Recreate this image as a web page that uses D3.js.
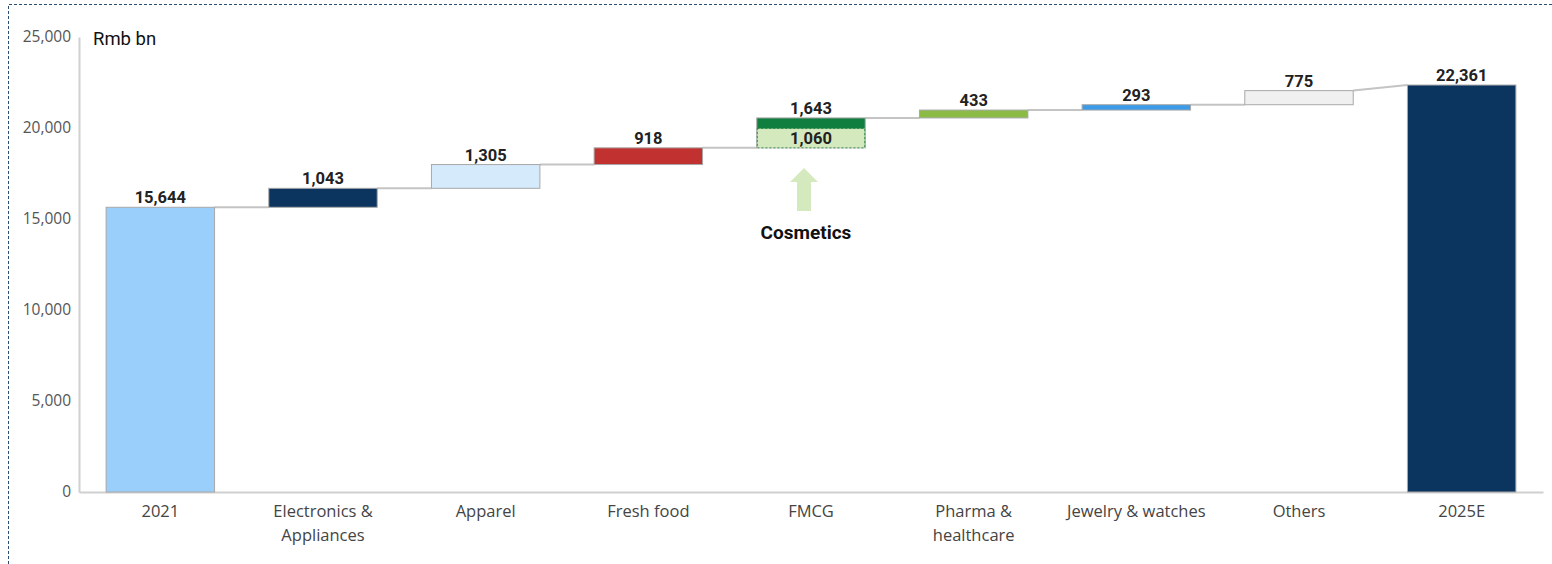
<!DOCTYPE html>
<html>
<head>
<meta charset="utf-8">
<script src="https://cdn.jsdelivr.net/npm/d3@7"></script>
<style>
  html, body { margin: 0; padding: 0; background: #fff; }
  svg { display: block; }
</style>
</head>
<body>
<svg id="chart" width="1552" height="564"></svg>
<script>
// Retail sales bridge, 2021 to 2025E (Rmb bn)
const categories = ["2021", "Electronics &\nAppliances", "Apparel", "Fresh food", "FMCG",
                    "Pharma &\nhealthcare", "Jewelry & watches", "Others", "2025E"];
const values = [15644, 1043, 1305, 918, 1643, 433, 293, 775, 22361];
const barTypes = ["total", "delta", "delta", "delta", "delta", "delta", "delta", "delta", "total"];
const barColors = ["#9BCFFB", "#0B345F", "#D5EAFB", "#C0312F", "#0F7E3F",
                   "#8BBB45", "#3B9BE8", "#F0F0F0", "#0B345F"];
const yTicks = [0, 5000, 10000, 15000, 20000, 25000];

// Cosmetics sub-segment inside FMCG
const subCategory = "FMCG";
const subLabel = "Cosmetics";
const subValue = 1060;
const subColor = "#D4E9BD";

const svg = d3.select("#chart");
const W = 1552, H = 564;

// dashed frame
svg.append("path")
  .attr("d", `M8.5,${H + 5} L8.5,4.5 L${W + 5},4.5`)
  .attr("fill", "none")
  .attr("stroke", "#2A4E72")
  .attr("stroke-width", 1)
  .attr("stroke-dasharray", "3,2");

const x = d3.scaleBand()
  .domain(categories)
  .range([79, 1543])
  .paddingInner(1 / 3)
  .paddingOuter(1 / 6);

const y = d3.scaleLinear().domain([0, 25000]).range([492, 37]);

// compute bar extents
let running = 0;
const bars = categories.map((c, i) => {
  let lo, hi;
  if (barTypes[i] === "total") {
    lo = 0; hi = values[i]; running = values[i];
  } else {
    lo = running; hi = running + values[i]; running = hi;
  }
  return { cat: c, lo, hi, value: values[i], color: barColors[i] };
});

// y axis
const yAxis = d3.axisLeft(y).tickValues(yTicks).tickSize(0).tickPadding(8)
  .tickFormat(d3.format(","));
const gy = svg.append("g").attr("transform", "translate(79,0)").call(yAxis);
gy.select(".domain").attr("stroke", "#D0D0D0").attr("stroke-width", 2);
gy.selectAll("text")
  .attr("font-family", "'Open Sans', 'Noto Sans', sans-serif")
  .attr("font-size", 15.5)
  .attr("fill", "#555555");

// x axis
const xAxis = d3.axisBottom(x).tickSize(0).tickPadding(0).tickFormat("");
const gx = svg.append("g").attr("transform", "translate(0,492)").call(xAxis);
gx.select(".domain").attr("stroke", "#D0D0D0").attr("stroke-width", 2);

gx.selectAll(".tick").each(function (d) {
  const lines = d.split("\n");
  const t = d3.select(this).append("text")
    .attr("text-anchor", "middle")
    .attr("font-family", "'Open Sans', 'Noto Sans', sans-serif")
    .attr("font-size", 16.5)
    .attr("fill", "#444444");
  lines.forEach((ln, k) => {
    t.append("tspan").attr("x", 0).attr("y", 25 + k * 24).text(ln);
  });
});

// connector lines between bars
for (let i = 0; i < bars.length - 1; i++) {
  const a = bars[i], b = bars[i + 1];
  const y1 = y(a.hi);
  const y2 = barTypes[i + 1] === "total" ? y(b.hi) : y(b.lo);
  svg.append("line")
    .attr("x1", x(a.cat) + x.bandwidth())
    .attr("y1", y1)
    .attr("x2", x(b.cat))
    .attr("y2", y2)
    .attr("stroke", "#C4C4C4")
    .attr("stroke-width", 2);
}

// bars
svg.append("g").selectAll("rect").data(bars).join("rect")
  .attr("x", d => x(d.cat))
  .attr("y", d => y(d.hi))
  .attr("width", x.bandwidth())
  .attr("height", d => y(d.lo) - y(d.hi))
  .attr("fill", d => d.color)
  .attr("stroke", "#A8A8A8")
  .attr("stroke-width", 1);

// cosmetics segment at the bottom of FMCG
const fm = bars.find(b => b.cat === subCategory);
svg.append("rect")
  .attr("x", x(subCategory) + 0.5)
  .attr("y", y(fm.lo + subValue))
  .attr("width", x.bandwidth() - 1)
  .attr("height", y(fm.lo) - y(fm.lo + subValue))
  .attr("fill", subColor)
  .attr("stroke", "#1E7E3E")
  .attr("stroke-width", 1)
  .attr("stroke-dasharray", "2,2")
  .attr("stroke-opacity", 0.8);

// value labels
const labelFont = "Roboto, 'Noto Sans', sans-serif";
svg.append("g").selectAll("text").data(bars).join("text")
  .attr("x", d => x(d.cat) + x.bandwidth() / 2)
  .attr("y", d => y(d.hi) - 4)
  .attr("text-anchor", "middle")
  .attr("font-family", labelFont)
  .attr("font-weight", 700)
  .attr("font-size", 16.5)
  .attr("fill", "#222222")
  .text(d => d3.format(",")(d.value));

svg.append("text")
  .attr("x", x(subCategory) + x.bandwidth() / 2)
  .attr("y", (y(fm.lo) + y(fm.lo + subValue)) / 2 + 6)
  .attr("text-anchor", "middle")
  .attr("font-family", labelFont)
  .attr("font-weight", 700)
  .attr("font-size", 16.5)
  .attr("fill", "#222222")
  .text(d3.format(",")(subValue));

// arrow pointing to the cosmetics segment
const ax = x(subCategory) + x.bandwidth() / 2 - 7;
svg.append("path")
  .attr("d", `M${ax},168 L${ax + 14},182 L${ax + 7},182 L${ax + 7},211 L${ax - 7},211 L${ax - 7},182 L${ax - 14},182 Z`)
  .attr("fill", subColor);

svg.append("text")
  .attr("x", ax + 2)
  .attr("y", 239)
  .attr("text-anchor", "middle")
  .attr("font-family", labelFont)
  .attr("font-weight", 700)
  .attr("font-size", 19)
  .attr("fill", "#111111")
  .text(subLabel);

// unit label
svg.append("text")
  .attr("x", 93)
  .attr("y", 45)
  .attr("font-family", "Roboto, 'Noto Sans', sans-serif")
  .attr("font-size", 18.5)
  .attr("fill", "#111111")
  .text("Rmb bn");
</script>
</body>
</html>
